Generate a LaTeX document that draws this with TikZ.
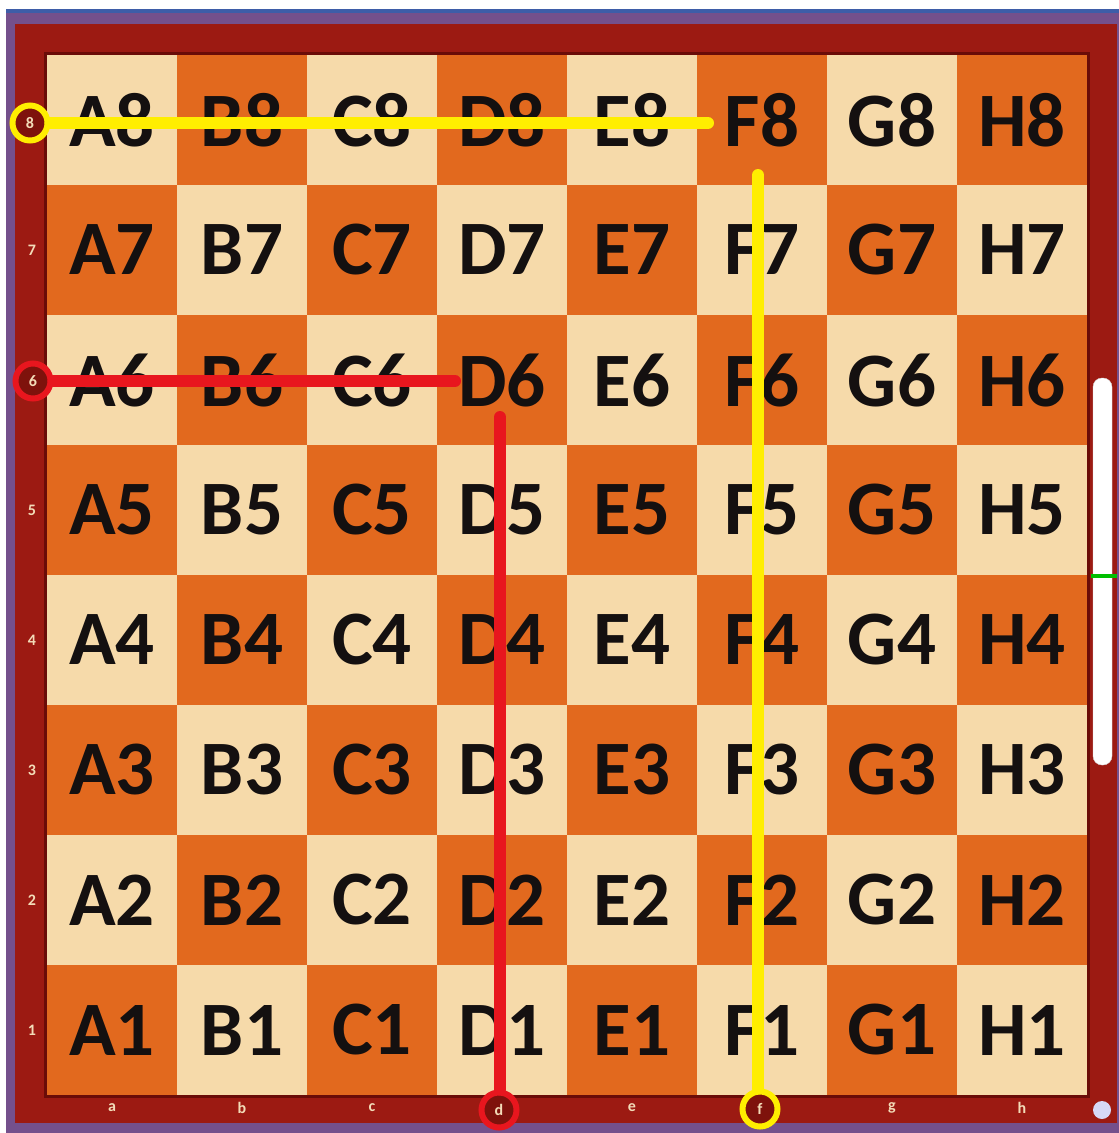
\documentclass[tikz,border=0pt]{standalone}
\usepackage{fontspec}
\setmainfont{Carlito}
\definecolor{frameRed}{HTML}{9C1A12}
\definecolor{frameDark}{HTML}{6A0C08}
\definecolor{lightSq}{HTML}{F6DAAA}
\definecolor{darkSq}{HTML}{E2691E}
\definecolor{outerPurple}{HTML}{74508C}
\definecolor{topBlue}{HTML}{3E5DA8}
\definecolor{hlYellow}{HTML}{FFEE00}
\definecolor{hlRed}{HTML}{E8161E}
\definecolor{coordText}{HTML}{F3DCB8}
\definecolor{dotLav}{HTML}{D6D8F6}
\definecolor{txtBlack}{HTML}{141010}
\tikzset{
  square/.style={rectangle, minimum size=130pt, inner sep=0pt, draw=none,
    font=\fontsize{77}{80}\selectfont\bfseries, text=txtBlack},
  coordlbl/.style={inner sep=0pt, font=\fontsize{16}{18}\selectfont\bfseries, text=coordText},
  ringY/.style={circle, draw=hlYellow, line width=6pt, fill=frameDark!60!frameRed, minimum size=35pt, inner sep=0pt,
    font=\fontsize{16}{18}\selectfont\bfseries, text=coordText},
  ringR/.style={circle, draw=hlRed, line width=6pt, fill=frameDark!60!frameRed, minimum size=35pt, inner sep=0pt,
    font=\fontsize{16}{18}\selectfont\bfseries, text=coordText},
  yline/.style={draw=hlYellow, line width=12pt, line cap=round},
  rline/.style={draw=hlRed, line width=12pt, line cap=round}
}
\begin{document}
\begin{tikzpicture}[x=1pt, y=-1pt]
\useasboundingbox (0,0) rectangle (1119,1133);
% outer background
\fill[white] (0,0) rectangle (1119,1133);
\fill[outerPurple] (6,9) rectangle (1119,1133);
\fill[topBlue] (6,9) rectangle (1119,13);
% wooden frame
\fill[frameRed] (15,24) rectangle (1117,1123);
\draw[frameDark, line width=3pt] (45.5,53.5) rectangle (1088.5,1096.5);
% squares
\foreach \f [count=\i from 0] in {A,B,C,D,E,F,G,H} {
  \foreach \r in {1,...,8} {
    \pgfmathtruncatemacro{\isdark}{mod(\i+\r,2)}
    \ifnum\isdark=1 \def\sqcol{darkSq}\else \def\sqcol{lightSq}\fi
    \node[square, fill=\sqcol] (sq-\f\r) at ({112+\i*130},{120+(8-\r)*130}) {\f\r};
  }
}
% file labels (d and f are ringed, drawn below)
\foreach \l/\i in {a/0,b/1,c/2,e/4,g/6,h/7} {
  \node[coordlbl] (file-\l) at ({112+\i*130},1108) {\l};
}
% rank labels (8 and 6 are ringed, drawn below)
\foreach \r in {1,2,3,4,5,7} {
  \node[coordlbl] (rank-\r) at (32,{120+(8-\r)*130}) {\r};
}
% ringed labels
\node[ringY] (rank-8) at (30,123) {8};
\node[ringR] (rank-6) at (33,381) {6};
\node[ringY] (file-f) at (760,1109) {f};
\node[ringR] (file-d) at (499,1110) {d};
% highlight line end points
\coordinate (yH) at (708,123);
\coordinate (yV) at (758,175);
\coordinate (rH) at (455,381);
\coordinate (rV) at (500,417);
% lines
\draw[yline] (rank-8.east) -- (yH);
\draw[yline] (yV) -- (yV |- file-f.north);
\draw[rline] (rank-6.east) -- (rH);
\draw[rline] (rV) -- (rV |- file-d.north);
% scrollbar
\fill[white, draw=black!15, rounded corners=9pt] (1093,378) rectangle (1112,765);
\draw[green!75!black, line width=4pt] (1091,576) -- (1117,576);
% corner dot
\fill[dotLav] (1102,1110) circle (9);
\end{tikzpicture}
\end{document}
